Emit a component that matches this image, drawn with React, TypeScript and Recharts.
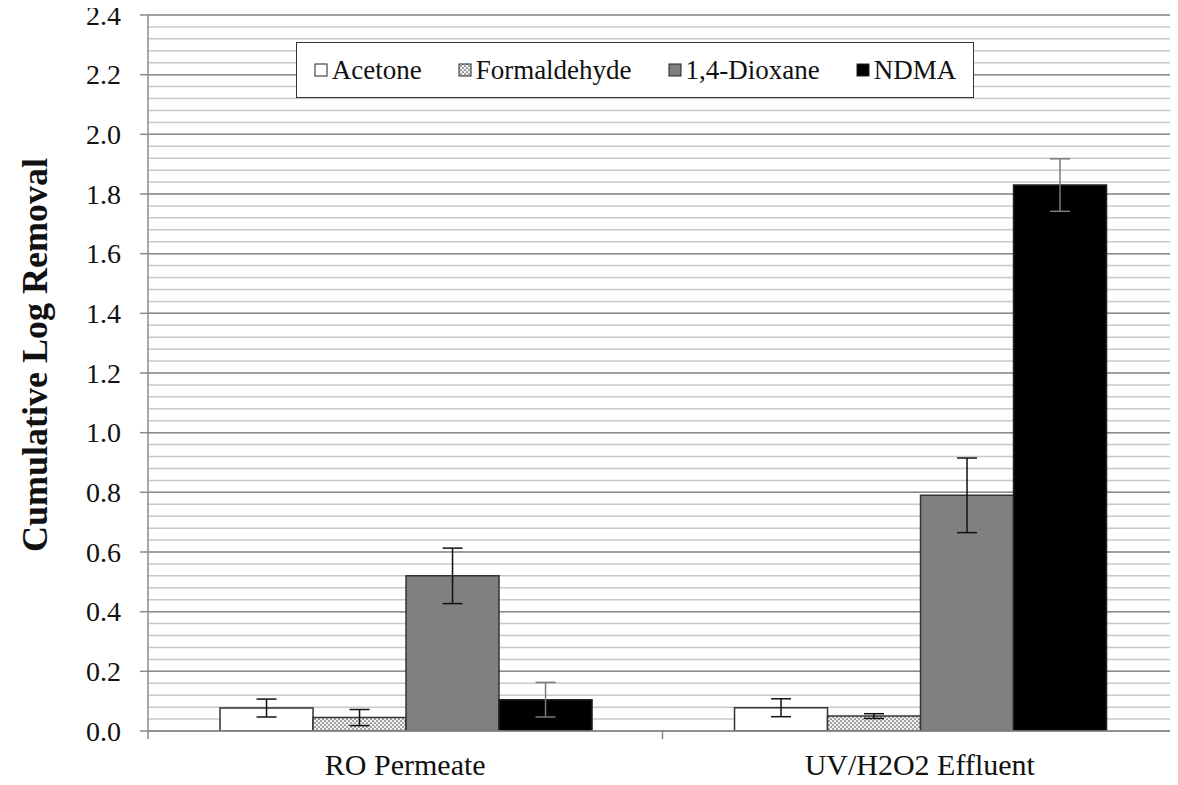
import React from 'react';
import { ComposedChart, Bar, ErrorBar, XAxis, YAxis, CartesianGrid, Legend } from 'recharts';

// Valeurs
const categories = ['RO Permeate', 'UV/H2O2 Effluent'];
const acetone = [0.077, 0.078];
const acetoneErr = [0.03, 0.03];
const formaldehyde = [0.045, 0.05];
const formaldehydeErr = [0.027, 0.008];
const dioxane = [0.52, 0.79];
const dioxaneErr = [0.093, 0.125];
const ndma = [0.105, 1.83];
const ndmaErr = [0.058, 0.088];

const yTicks = [0, 0.2, 0.4, 0.6, 0.8, 1.0, 1.2, 1.4, 1.6, 1.8, 2.0, 2.2, 2.4];
// lignes secondaires tous les 0.04
const minorLines = Array.from({ length: 61 }, (_, i) => +(i * 0.04).toFixed(2));

const data = categories.map((name, i) => ({
  name,
  acetone: acetone[i],
  acetoneErr: acetoneErr[i],
  formaldehyde: formaldehyde[i],
  formaldehydeErr: formaldehydeErr[i],
  dioxane: dioxane[i],
  dioxaneErr: dioxaneErr[i],
  ndma: ndma[i],
  ndmaErr: ndmaErr[i],
}));

const FONT = "'Liberation Serif', serif";
const AXIS_COLOR = '#8a8a8a';
const TICK_SIZE = 8;
const TICK_MARGIN = 15;

const legendItems = [
  { label: 'Acetone', fill: '#ffffff' },
  { label: 'Formaldehyde', fill: 'url(#dots)' },
  { label: '1,4-Dioxane', fill: '#808080' },
  { label: 'NDMA', fill: '#000000' },
];

const LegendBox = () => (
  <div
    style={{
      display: 'flex',
      justifyContent: 'center',
      alignItems: 'center',
      gap: 36,
      width: '100%',
      height: '100%',
      fontFamily: FONT,
      fontSize: 27,
      color: '#111',
    }}
  >
    {legendItems.map((it) => (
      <div key={it.label} style={{ display: 'flex', alignItems: 'center' }}>
        <svg width={14} height={14} style={{ marginRight: 4 }}>
          <rect x={1} y={1} width={12} height={12} fill={it.fill} stroke="#222" strokeWidth={1} />
        </svg>
        <span>{it.label}</span>
      </div>
    ))}
  </div>
);

const CategoryTick = (props: any) => {
  const { x, y, payload, index, visibleTicksCount, width } = props;
  const count = visibleTicksCount || categories.length;
  const band = (width || 1029) / count;
  const axisY = y - TICK_SIZE - TICK_MARGIN;
  return (
    <g>
      <line x1={x - band / 2} x2={x - band / 2} y1={axisY} y2={axisY + TICK_SIZE} stroke={AXIS_COLOR} strokeWidth={1.5} />
      {index === count - 1 && (
        <line x1={x + band / 2 - 1} x2={x + band / 2 - 1} y1={axisY} y2={axisY + TICK_SIZE} stroke={AXIS_COLOR} strokeWidth={1.5} />
      )}
      <text x={x} y={y} dy="0.71em" textAnchor="middle" style={{ fontFamily: FONT }} fontSize={30} fill="#111">
        {payload.value}
      </text>
    </g>
  );
};

const YTick = (props: any) => {
  const { x, y, payload } = props;
  return (
    <text x={x} y={y} dy="0.35em" textAnchor="end" style={{ fontFamily: FONT }} fontSize={28} fill="#111">
      {Number(payload.value).toFixed(1)}
    </text>
  );
};

const YTitle = (props: any) => {
  const { viewBox } = props;
  const cx = viewBox.x + 35;
  const cy = viewBox.y + viewBox.height / 2 - 18;
  return (
    <text
      x={cx}
      y={cy}
      transform={`rotate(-90, ${cx}, ${cy})`}
      textAnchor="middle"
      dominantBaseline="central"
      style={{ fontFamily: FONT }}
      fontWeight="bold"
      fontSize={36}
      fill="#111"
    >
      Cumulative Log Removal
    </text>
  );
};

const App: React.FC = () => {
  return (
    <div style={{ position: 'relative', left: -8, top: -8, width: 1178, height: 785, background: '#fff', fontFamily: FONT }}>
      <ComposedChart
        width={1178}
        height={785}
        data={data}
        margin={{ top: 15, right: 1, bottom: 8, left: 0 }}
        barCategoryGap="14%"
        barGap={0}
        style={{ fontFamily: FONT }}
      >
        <defs>
          <pattern id="dots" width={4} height={4} patternUnits="userSpaceOnUse">
            <rect width={4} height={4} fill="#f2f2f2" />
            <circle cx={1} cy={1} r={0.85} fill="#555" />
            <circle cx={3} cy={3} r={0.85} fill="#555" />
          </pattern>
        </defs>
        <CartesianGrid vertical={false} horizontalValues={minorLines} stroke="#c8c8c8" strokeWidth={1.5} />
        <CartesianGrid vertical={false} horizontalValues={yTicks} stroke="#8c8c8c" strokeWidth={1.5} />
        <XAxis
          dataKey="name"
          height={46}
          axisLine={{ stroke: AXIS_COLOR, strokeWidth: 1.5 }}
          tickLine={false}
          tickSize={TICK_SIZE}
          tickMargin={TICK_MARGIN}
          tick={<CategoryTick />}
          interval={0}
        />
        <YAxis
          width={148}
          domain={[0, 2.4]}
          ticks={yTicks}
          interval={0}
          allowDataOverflow
          axisLine={{ stroke: AXIS_COLOR, strokeWidth: 1.5 }}
          tickLine={{ stroke: AXIS_COLOR, strokeWidth: 1.5 }}
          tickSize={TICK_SIZE}
          tickMargin={19}
          tick={<YTick />}
          label={<YTitle />}
        />
        <Legend
          layout="horizontal"
          verticalAlign="middle"
          align="center"
          content={<LegendBox />}
          wrapperStyle={{
            position: 'absolute',
            left: 296,
            top: 42,
            width: 676,
            height: 54,
            border: '1.5px solid #333',
            background: '#fff',
            boxSizing: 'content-box',
          }}
        />
        <Bar dataKey="acetone" name="Acetone" fill="#ffffff" stroke="#333" strokeWidth={1.5} isAnimationActive={false}>
          <ErrorBar dataKey="acetoneErr" width={10} stroke="#111" strokeWidth={1.5} />
        </Bar>
        <Bar dataKey="formaldehyde" name="Formaldehyde" fill="url(#dots)" stroke="#333" strokeWidth={1.5} isAnimationActive={false}>
          <ErrorBar dataKey="formaldehydeErr" width={10} stroke="#111" strokeWidth={1.5} />
        </Bar>
        <Bar dataKey="dioxane" name="1,4-Dioxane" fill="#808080" stroke="#333" strokeWidth={1.5} isAnimationActive={false}>
          <ErrorBar dataKey="dioxaneErr" width={10} stroke="#111" strokeWidth={1.5} />
        </Bar>
        <Bar dataKey="ndma" name="NDMA" fill="#000000" stroke="#222" strokeWidth={1.5} isAnimationActive={false}>
          <ErrorBar dataKey="ndmaErr" width={10} stroke="#7a7a7a" strokeWidth={1.5} />
        </Bar>
      </ComposedChart>
    </div>
  );
};

export default App;
